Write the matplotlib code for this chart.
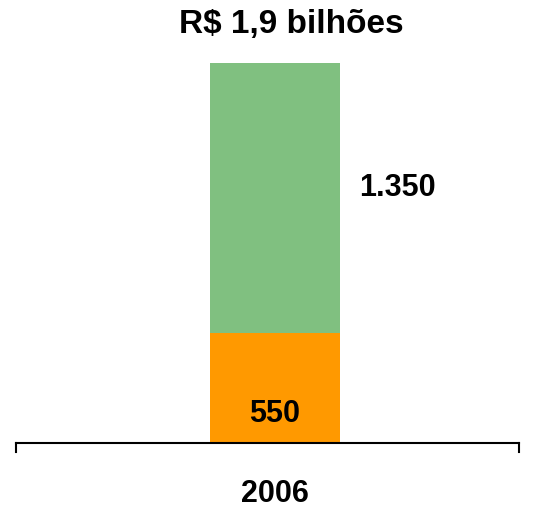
import matplotlib.pyplot as plt

years = ['2006']
base_values = [550]
top_values = [1350]
base_labels = ['550']
top_labels = ['1.350']
title = 'R$ 1,9 bilhões'

plt.rcParams['font.family'] = ['Liberation Sans', 'DejaVu Sans']

fig = plt.figure(figsize=(5.37, 5.09), dpi=100)
ax = fig.add_axes([0.0298, 0.1297, 0.9367, 0.7466])

x = range(len(years))
ax.bar(x, base_values, width=0.52, color='#FF9900')
ax.bar(x, top_values, width=0.52, bottom=base_values, color='#80C080')

for i in x:
    ax.annotate(base_labels[i], (i, 0), xytext=(0, 10), textcoords='offset points',
                ha='center', va='bottom', fontsize=22, fontweight='bold')
    ax.annotate(top_labels[i], (i + 0.26, base_values[i] + top_values[i] / 2),
                xytext=(41, 7), textcoords='offset points',
                ha='center', va='center', fontsize=22, fontweight='bold')

ax.set_xlim(-1.03, 0.97)
ax.set_ylim(0, base_values[0] + top_values[0])
ax.set_xticks(list(x))
ax.set_xticklabels(years, fontsize=22, fontweight='bold')
ax.tick_params(axis='x', length=0, pad=26)
ax.set_yticks([])
for side in ['top', 'right', 'left']:
    ax.spines[side].set_visible(False)
ax.spines['bottom'].set_linewidth(1.5)
# end ticks on the axis line
ax.plot([0, 0], [0, -0.025], transform=ax.transAxes, color='black', lw=1.5, clip_on=False)
ax.plot([1, 1], [0, -0.025], transform=ax.transAxes, color='black', lw=1.5, clip_on=False)

fig.text(0.542, 0.952, title, ha='center', va='center', fontsize=24, fontweight='bold')

fig.savefig('out.png', dpi=100)
